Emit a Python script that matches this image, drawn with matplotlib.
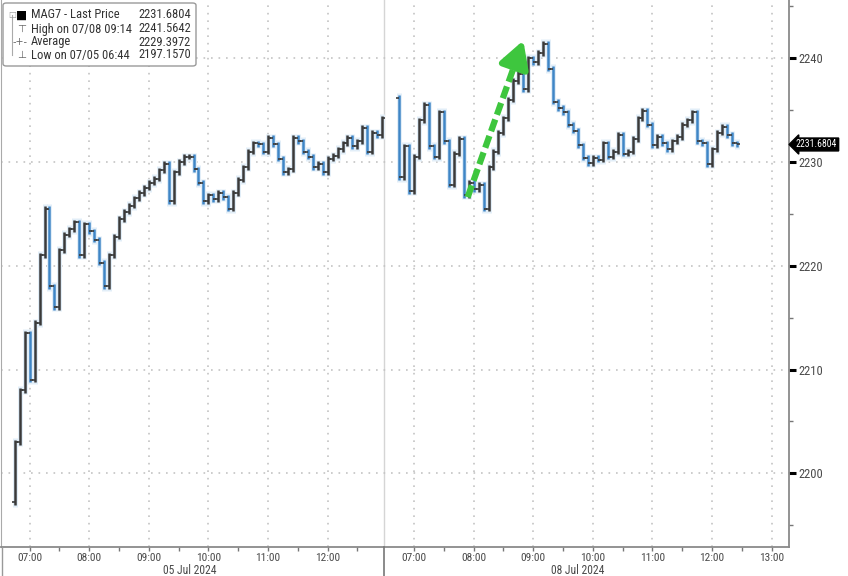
import matplotlib
matplotlib.use('Agg')
import matplotlib.pyplot as plt
import matplotlib.markers as mmarkers
from matplotlib import font_manager
from matplotlib.patches import FancyBboxPatch
from matplotlib.lines import Line2D
import numpy as np

names = {f.name for f in font_manager.fontManager.ttflist}
FONT = 'DejaVu Sans'
for cand in ['Liberation Sans Narrow', 'Roboto Condensed', 'Open Sans Condensed', 'Liberation Sans']:
    if cand in names:
        FONT = cand
        break
plt.rcParams['font.family'] = [FONT, 'DejaVu Sans']

# ---------------- data ----------------
# minutes after 06:30 for each 5-minute bar
day1_minutes = list(range(15, 386, 5))
day1_open = 2197.2
day1_close = [
    2203.0, 2208.0, 2213.5, 2209.0, 2214.5, 2221.0, 2225.5, 2218.0, 2216.0, 2221.5,
    2223.0, 2223.5, 2224.2, 2221.0, 2224.0, 2223.3, 2222.5, 2220.3, 2218.0, 2221.0,
    2222.8, 2224.5, 2225.2, 2225.8, 2226.5, 2227.0, 2227.5, 2228.0, 2228.4, 2229.2,
    2229.8, 2226.2, 2229.0, 2230.0, 2230.5, 2230.5, 2229.3, 2228.0, 2226.2, 2226.8,
    2226.4, 2227.0, 2226.6, 2225.5, 2227.0, 2228.3, 2229.5, 2231.0, 2231.8, 2231.7,
    2231.0, 2232.3, 2231.7, 2230.3, 2229.0, 2229.3, 2232.3, 2232.0, 2231.0, 2230.5,
    2229.5, 2229.8, 2229.0, 2230.3, 2230.6, 2231.2, 2231.8, 2232.3, 2231.5, 2232.0,
    2233.3, 2231.0, 2232.8, 2232.6, 2234.2,
]
day2_minutes = list(range(15, 356, 5))
day2_open = 2236.2
day2_close = [
    2228.5, 2231.5, 2227.2, 2230.5, 2234.0, 2235.5, 2231.5, 2230.5, 2234.8, 2232.0,
    2227.8, 2230.8, 2232.2, 2226.8, 2228.0, 2227.4, 2227.8, 2225.5, 2229.5, 2231.0,
    2232.8, 2234.2, 2236.0, 2237.8, 2238.5, 2237.0, 2240.0, 2239.6, 2240.5, 2241.4,
    2239.0, 2235.8, 2235.2, 2234.8, 2233.6, 2233.0, 2231.6, 2230.4, 2229.9, 2230.4,
    2230.2, 2231.8, 2230.5, 2231.0, 2232.6, 2230.8, 2231.0, 2232.2, 2234.2, 2234.9,
    2233.6, 2231.6, 2232.4, 2231.8, 2231.2, 2232.0, 2232.4, 2233.6, 2234.0, 2234.8,
    2232.0, 2231.8, 2229.8, 2231.2, 2232.8, 2233.4, 2232.6, 2231.8, 2231.68,
]
hour_labels_day1 = ['07:00', '08:00', '09:00', '10:00', '11:00', '12:00']
hour_labels_day2 = ['07:00', '08:00', '09:00', '10:00', '11:00', '12:00', '13:00']
date_labels = ['05 Jul 2024', '08 Jul 2024']
y_ticks = [2200, 2210, 2220, 2230, 2240]
legend_rows = [
    ('MAG7 - Last Price', '2231.6804'),
    ('High on 07/08 09:14', '2241.5642'),
    ('Average', '2229.3972'),
    ('Low on 07/05 06:44', '2197.1570'),
]
last_price = 2231.6804
arrow_start = (84, 2226.6)   # day-2 minute, price
arrow_end = (140, 2241.7)

# ---------------- layout ----------------
DAY2_OFFSET = 6.45
DARK = '#3a3a3a'
BLUE = '#3f86c6'
GRID = '#c4c4c4'
TXT = '#4a4a4a'

fig = plt.figure(figsize=(8.48, 5.76), dpi=100)
ax = fig.add_axes([1 / 848, 29 / 576, 788 / 848, 547 / 576])
x0 = 0.02
ax.set_xlim(x0, x0 + 788 / 59.6)
ax.set_ylim(2192.9, 2245.6)


def draw_day(offset, minutes, opn, closes):
    pos = offset + np.array(minutes) / 60.0
    cl = np.array(closes, dtype=float)
    prev = np.concatenate([[opn], cl[:-1]])
    lo = np.minimum(prev, cl) - 0.25
    hi = np.maximum(prev, cl) + 0.25
    cols = np.where(cl >= prev, DARK, BLUE)
    ax.vlines(pos, lo - 0.15, hi + 0.15, colors='#e2eef8', lw=3.6, zorder=2)
    ax.vlines(pos, lo, hi, colors=cols, lw=1.8, zorder=3)
    ax.plot(pos, prev, ls='none', marker=mmarkers.TICKLEFT, ms=2.0, mew=1.2, color=DARK, zorder=3)
    ax.plot(pos, cl, ls='none', marker=mmarkers.TICKRIGHT, ms=2.0, mew=1.2, color=DARK, zorder=3)


draw_day(0.0, day1_minutes, day1_open, day1_close)
draw_day(DAY2_OFFSET, day2_minutes, day2_open, day2_close)

# ticks
maj1 = [0.5 + i for i in range(len(hour_labels_day1))]
maj2 = [DAY2_OFFSET + 0.5 + i for i in range(len(hour_labels_day2))]
ax.set_xticks(maj1 + maj2)
ax.set_xticklabels(hour_labels_day1 + hour_labels_day2)
ax.set_xticks([p + 0.5 for p in maj1] + [p + 0.5 for p in maj2[:-1]], minor=True)
ax.yaxis.tick_right()
ax.set_yticks(y_ticks)
ax.set_yticks([2195, 2205, 2215, 2225, 2235, 2245], minor=True)
ax.tick_params(axis='y', which='major', direction='out', length=5, width=2.2, color='black',
               labelsize=9, labelcolor=TXT, pad=2)
ax.tick_params(axis='y', which='minor', direction='out', length=3, width=1, color='#777')
ax.tick_params(axis='x', which='major', direction='out', length=3, width=1, color='#777',
               labelsize=8.2, labelcolor=TXT, pad=1)
ax.tick_params(axis='x', which='minor', direction='out', length=3, width=1, color='#777')

ax.grid(True, which='major', color=GRID, linestyle=(0, (1, 3.5)), linewidth=1.2)
ax.spines['top'].set_visible(False)
ax.spines['left'].set_color('#aaaaaa')
ax.spines['right'].set_color('#8a8a8a')
ax.spines['right'].set_linewidth(1.3)
ax.spines['bottom'].set_color('#8a8a8a')
ax.spines['bottom'].set_linewidth(1.3)

# day separator
ax.axvline(DAY2_OFFSET, color='#d5d5d5', lw=1.0, zorder=1)
sep_x = (1 + (DAY2_OFFSET - x0) * 59.6) / 848
fig.add_artist(Line2D([sep_x, sep_x], [0, 29 / 576], color='#777777', lw=1.2))
fig.add_artist(Line2D([1.5 / 848, 1.5 / 848], [0, 29 / 576], color='#999999', lw=1.0))

# date labels
fig.text(190 / 848, 1 - 571 / 576, date_labels[0], ha='center', va='center', fontsize=8.4, color=TXT)
fig.text(578 / 848, 1 - 571 / 576, date_labels[1], ha='center', va='center', fontsize=8.4, color=TXT)

# last price marker
ax.annotate(f'{last_price:.4f}', xy=(1.0, last_price), xycoords=('axes fraction', 'data'),
            xytext=(5, 0), textcoords='offset points', ha='left', va='center',
            color='white', fontsize=7.0,
            bbox=dict(boxstyle='larrow,pad=0.15', fc='black', ec='black'), annotation_clip=False)

# green arrow
tx = DAY2_OFFSET + arrow_start[0] / 60
hx = DAY2_OFFSET + arrow_end[0] / 60
ty, hy = arrow_start[1], arrow_end[1]
f = 0.86
bx, by = tx + (hx - tx) * f, ty + (hy - ty) * f
GREEN = '#3ec63e'
ax.plot([tx, bx], [ty, by], color=GREEN, lw=4.5, dashes=(2.0, 0.8), solid_capstyle='butt',
        dash_capstyle='butt', zorder=5)
ax.annotate('', xy=(hx, hy), xytext=(bx - (hx - tx) * 0.02, by - (hy - ty) * 0.02),
            arrowprops=dict(arrowstyle='-|>,head_length=1.6,head_width=0.9', color=GREEN, lw=4.5,
                            shrinkA=0, shrinkB=0), zorder=5)

# legend box
box = FancyBboxPatch((3 / 848, 1 - 66 / 576), 193 / 848, 63 / 576,
                     boxstyle='round,pad=0,rounding_size=0.004', transform=fig.transFigure,
                     fc='white', ec='#9a9a9a', lw=1.0, zorder=10)
fig.add_artist(box)
row_y = [15, 29, 42, 55]
for (lab, val), yy in zip(legend_rows, row_y):
    fy = 1 - yy / 576
    fig.text(31 / 848, fy, lab, ha='left', va='center', fontsize=9, color='#333333', zorder=11)
    fig.text(191 / 848, fy, val, ha='right', va='center', fontsize=9, color='#333333', zorder=11)
# icons
fig.add_artist(Line2D([12 / 848, 12 / 848], [1 - 15 / 576, 1 - 55 / 576], color='#aaaaaa', lw=0.8, zorder=11))
fig.text(12 / 848, 1 - 15 / 576, '□', ha='center', va='center', fontsize=6, color='#999999',
         family='DejaVu Sans', zorder=12)
fig.text(22 / 848, 1 - 15 / 576, '■', ha='center', va='center', fontsize=8.5, color='black',
         family='DejaVu Sans', zorder=12)
fig.text(22 / 848, 1 - 29 / 576, '⊤', ha='center', va='center', fontsize=7.5, color='#666666',
         family='DejaVu Sans', zorder=12)
fig.text(20 / 848, 1 - 42 / 576, '-+-', ha='center', va='center', fontsize=7, color='#666666',
         family='DejaVu Sans', zorder=12)
fig.text(22 / 848, 1 - 55 / 576, '⊥', ha='center', va='center', fontsize=7.5, color='#666666',
         family='DejaVu Sans', zorder=12)

fig.savefig('out.png', dpi=100)
